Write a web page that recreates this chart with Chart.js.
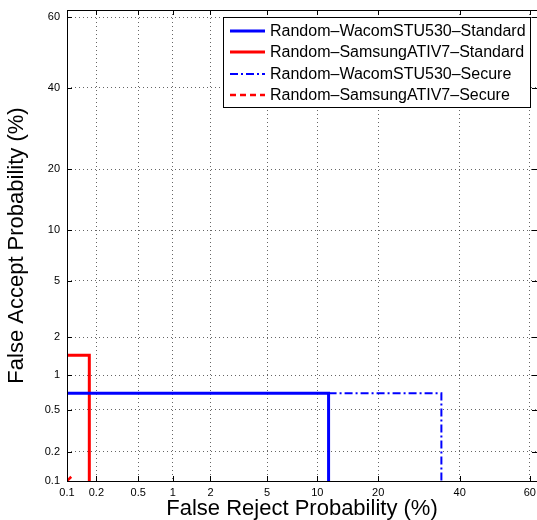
<!DOCTYPE html>
<html>
<head>
<meta charset="utf-8">
<script src="https://cdn.jsdelivr.net/npm/chart.js@4.4.0/dist/chart.umd.min.js"></script>
<style>
html, body { margin: 0; padding: 0; background: #fff; }
#wrap { width: 537px; height: 520px; }
</style>
</head>
<body>
<div id="wrap"><canvas id="det" width="537" height="520"></canvas></div>
<script>
// ticks (percent) shared by both axes of the DET plot
const tickValues = [0.1, 0.2, 0.5, 1, 2, 5, 10, 20, 40, 60];
const axisMin = 0.1;
const axisMax = 62;

// curves: false reject (x) / false accept (y), in percent
const seriesNames = [
    'Random–WacomSTU530–Standard',
    'Random–SamsungATIV7–Standard',
    'Random–WacomSTU530–Secure',
    'Random–SamsungATIV7–Secure'
];
const wacomStdFRR = [0.1, 11.5, 11.5];
const wacomStdFAR = [0.7, 0.7, 0.1];
const samsungStdFRR = [0.1, 0.17, 0.17];
const samsungStdFAR = [1.45, 1.45, 0.1];
const wacomSecFRR = [11.5, 35, 35];
const wacomSecFAR = [0.7, 0.7, 0.1];
const samsungSecFRR = [0.1, 0.113];
const samsungSecFAR = [0.1, 0.113];

const seriesColors = ['#0000ff', '#ff0000', '#0000ff', '#ff0000'];
const seriesWidths = [3, 3, 2, 2.5];
const seriesDash = [[], [], [8, 3, 2, 3], [6, 4]];

// inverse normal cdf (Acklam)
function probit(pct) {
    let p = pct / 100;
    const a = [-3.969683028665376e+01, 2.209460984245205e+02, -2.759285104469687e+02, 1.383577518672690e+02, -3.066479806614716e+01, 2.506628277459239e+00];
    const b = [-5.447609879822406e+01, 1.615858368580409e+02, -1.556989798598866e+02, 6.680131188771972e+01, -1.328068155288572e+01];
    const c = [-7.784894002430293e-03, -3.223964580411365e-01, -2.400758277161838e+00, -2.549732539343734e+00, 4.374664141464968e+00, 2.938163982698783e+00];
    const d = [7.784695709041462e-03, 3.224671290700398e-01, 2.445134137142996e+00, 3.754408661907416e+00];
    const plow = 0.02425;
    let q, r;
    if (p <= 0) p = 1e-9;
    if (p >= 1) p = 1 - 1e-9;
    if (p < plow) {
        q = Math.sqrt(-2 * Math.log(p));
        return (((((c[0]*q+c[1])*q+c[2])*q+c[3])*q+c[4])*q+c[5]) / ((((d[0]*q+d[1])*q+d[2])*q+d[3])*q+1);
    }
    if (p <= 1 - plow) {
        q = p - 0.5; r = q * q;
        return (((((a[0]*r+a[1])*r+a[2])*r+a[3])*r+a[4])*r+a[5])*q / (((((b[0]*r+b[1])*r+b[2])*r+b[3])*r+b[4])*r+1);
    }
    q = Math.sqrt(-2 * Math.log(1 - p));
    return -(((((c[0]*q+c[1])*q+c[2])*q+c[3])*q+c[4])*q+c[5]) / ((((d[0]*q+d[1])*q+d[2])*q+d[3])*q+1);
}

function normCdf(z) {
    const t = 1 / (1 + 0.3275911 * Math.abs(z) / Math.SQRT2);
    const e = 1 - (((((1.061405429*t - 1.453152027)*t) + 1.421413741)*t - 0.284496736)*t + 0.254829592)*t*Math.exp(-z*z/2);
    return z >= 0 ? 0.5 * (1 + e) : 0.5 * (1 - e);
}

class ProbitScale extends Chart.Scale {
    determineDataLimits() {
        this.min = this.options.min;
        this.max = this.options.max;
    }
    buildTicks() {
        return tickValues.map(v => ({value: v}));
    }
    getLabelForValue(v) {
        return String(v);
    }
    configure() {
        super.configure();
        this._pStart = probit(this.min);
        this._pRange = probit(this.max) - this._pStart;
    }
    getPixelForValue(v) {
        return this.getPixelForDecimal((probit(v) - this._pStart) / this._pRange);
    }
    getValueForPixel(px) {
        return normCdf(this._pStart + this.getDecimalForPixel(px) * this._pRange) * 100;
    }
}
ProbitScale.id = 'probit';
ProbitScale.defaults = {};
Chart.register(ProbitScale);

function zip(xs, ys) {
    return xs.map((x, i) => ({x: x, y: ys[i]}));
}

const curves = [
    zip(wacomStdFRR, wacomStdFAR),
    zip(samsungStdFRR, samsungStdFAR),
    zip(wacomSecFRR, wacomSecFAR),
    zip(samsungSecFRR, samsungSecFAR)
];

const datasets = curves.map((pts, i) => ({
    label: seriesNames[i],
    data: pts,
    showLine: true,
    borderColor: seriesColors[i],
    backgroundColor: seriesColors[i],
    borderWidth: seriesWidths[i],
    borderDash: seriesDash[i],
    pointRadius: 0,
    fill: false,
    clip: 0
}));
// draw the secure curves under the standard ones
const ordered = [datasets[2], datasets[3], datasets[0], datasets[1]];

const FONT = 'Liberation Sans';

const frame = {
    id: 'frame',
    afterDraw(chart) {
        const ctx = chart.ctx;
        const a = chart.chartArea;
        const sx = chart.scales.x, sy = chart.scales.y;
        ctx.save();
        ctx.strokeStyle = '#000';
        ctx.lineWidth = 1;
        ctx.setLineDash([]);
        ctx.beginPath();
        tickValues.forEach(v => {
            const px = Math.round(sx.getPixelForValue(v)) + 0.5;
            ctx.moveTo(px, a.bottom); ctx.lineTo(px, a.bottom - 5);
            ctx.moveTo(px, a.top); ctx.lineTo(px, a.top + 5);
            const py = Math.round(sy.getPixelForValue(v)) + 0.5;
            ctx.moveTo(a.left, py); ctx.lineTo(a.left + 5, py);
            ctx.moveTo(a.right, py); ctx.lineTo(a.right - 5, py);
        });
        ctx.stroke();
        ctx.strokeRect(Math.round(a.left) + 0.5, Math.round(a.top) + 0.5, Math.round(a.right - a.left), Math.round(a.bottom - a.top));

        // legend box
        const bx = 223.5, by = 17.5, bw = 307, bh = 90;
        ctx.fillStyle = '#fff';
        ctx.fillRect(bx, by, bw, bh);
        ctx.strokeRect(bx, by, bw, bh);
        const rows = [31, 52, 74, 95];
        ctx.font = '16px "' + FONT + '"';
        ctx.textBaseline = 'middle';
        ctx.textAlign = 'left';
        datasets.forEach((ds, i) => {
            ctx.beginPath();
            ctx.strokeStyle = ds.borderColor;
            ctx.lineWidth = ds.borderWidth;
            ctx.setLineDash(ds.borderDash);
            ctx.moveTo(230, rows[i]);
            ctx.lineTo(265, rows[i]);
            ctx.stroke();
            ctx.fillStyle = '#000';
            ctx.fillText(ds.label, 270, rows[i] + 1);
        });
        ctx.restore();
    }
};

new Chart(document.getElementById('det'), {
    type: 'scatter',
    data: { datasets: ordered },
    options: {
        responsive: false,
        animation: false,
        devicePixelRatio: 1,
        layout: { padding: { top: 10, right: 0, left: 0, bottom: 0 } },
        plugins: {
            legend: { display: false },
            tooltip: { enabled: false }
        },
        scales: {
            x: {
                type: 'probit',
                position: 'bottom',
                min: axisMin,
                max: axisMax,
                grid: { color: 'rgba(0,0,0,0.6)', lineWidth: 1, drawTicks: false },
                border: { display: false, dash: [1, 3] },
                ticks: { color: '#000', font: { family: FONT, size: 11 }, padding: 5, maxRotation: 0, autoSkip: false },
                title: {
                    display: true,
                    text: 'False Reject Probability (%)',
                    color: '#000',
                    font: { family: FONT, size: 22 },
                    padding: { top: 0, bottom: -2 }
                },
                afterFit: s => { s.height = 39; s.paddingLeft = 0; s.paddingRight = 0; }
            },
            y: {
                type: 'probit',
                position: 'left',
                min: axisMin,
                max: axisMax,
                grid: { color: 'rgba(0,0,0,0.6)', lineWidth: 1, drawTicks: false },
                border: { display: false, dash: [1, 3] },
                ticks: { color: '#000', font: { family: FONT, size: 11 }, padding: 7, autoSkip: false },
                title: {
                    display: true,
                    text: 'False Accept Probability (%)',
                    color: '#000',
                    font: { family: FONT, size: 22 },
                    padding: { top: 4, bottom: 0 }
                },
                afterFit: s => { s.width = 67; s.paddingTop = 0; s.paddingBottom = 0; }
            }
        }
    },
    plugins: [frame]
});
</script>
</body>
</html>
